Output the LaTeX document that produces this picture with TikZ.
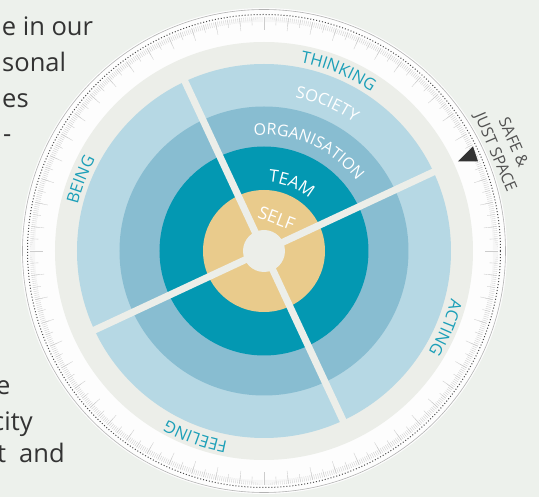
\documentclass[tikz,border=0pt]{standalone}
\usepackage{fontspec}
\setmainfont{Open Sans}
\usetikzlibrary{decorations.text}
\definecolor{bgcol}{HTML}{EDF1EC}
\definecolor{bandcol}{HTML}{ECEEE9}
\definecolor{dialcol}{HTML}{FDFDFD}
\definecolor{societycol}{HTML}{B6D8E4}
\definecolor{orgcol}{HTML}{88BDD1}
\definecolor{teamcol}{HTML}{0398B2}
\definecolor{selfcol}{HTML}{E9CB8C}
\definecolor{labelcol}{HTML}{1B9FB8}
\definecolor{inkcol}{HTML}{333333}
\begin{document}
\begin{tikzpicture}[x=1pt, y=1pt,
    body/.style={anchor=base west, inner sep=0pt, text=inkcol, font=\fontsize{25.5}{30}\selectfont},
    tick/.style={draw=gray!40, line width=0.35pt},
    spoke/.style={draw=bandcol, line width=7pt},
    safe/.style={text=inkcol!85, font=\fontsize{16}{18}\selectfont, inner sep=0pt}
  ]
  % page
  \fill[bgcol] (-264,-246) rectangle (275,251);
  \useasboundingbox (-264,-246) rectangle (275,251);
  \clip (-264,-246) rectangle (275,251);

  % dial with ticks
  \fill[dialcol] (0,0) circle (243);
  \draw[gray!60, line width=0.6pt] (0,0) circle (241.5);
  \draw[gray!60!black, dotted, line width=1pt] (0,0) circle (236.5);
  \foreach \a in {0,0.5,...,359.5} \draw[tick] (\a:234) -- (\a:229);
  \foreach \a in {0,3,...,357} \draw[tick] (\a:234) -- (\a:226);
  \foreach \a in {0,6,...,354} \draw[tick] (\a:234) -- (\a:221);

  % rings
  \fill[bandcol] (0,0) circle (209);
  \fill[societycol] (0,0) circle (187);
  \fill[orgcol] (0,0) circle (144.5);
  \fill[teamcol] (0,0) circle (104.5);
  \fill[selfcol] (0,0) circle (61);
  \draw[spoke] (205:188) -- (25:188);
  \draw[spoke] (295:188) -- (115:188);
  \fill[bandcol] (0,0) circle (21);

  % marker
  \fill[inkcol] (194,89.5) -- (214,89.5) -- (209,104.5) -- cycle;

  % ring labels
  \node[text=white, inner sep=0pt, font=\fontsize{17.5}{18}\selectfont, rotate=-21] (self) at (69:35) {SELF};
  \foreach \ang/\rad/\word/\col/\size in {67.8/69/TEAM/white/17,
      66/116/ORGANISATION/white/16, 66.8/157/SOCIETY/white/16.5, 67.5/192/THINKING/labelcol/16.5,
      158.7/192/BEING/labelcol/16.5, -22.9/193/ACTING/labelcol/16.5, 249.7/194/FEELING/labelcol/16.5}
    \path[decorate, decoration={text along path, text color=\col, text align=center,
        text/.expanded={|\noexpand\fontsize{\size}{18}\noexpand\selectfont|\word}}]
      (\ang+60:\rad) arc[start angle=\ang+60, end angle=\ang-60, radius=\rad];

  \node[safe, rotate=-66.5] (safe) at (23.5:272.5) {SAFE \&};
  \node[safe, rotate=-66.9] (just) at (23.1:251) {JUST SPACE};

  % cut-off body text
  \node[body] (l1) at (-262.3,215.5) {e in our};
  \node[body] (l2) at (-262,179.5) {sonal};
  \node[body] (l3) at (-262,143.5) {es};
  \node[body] (l4) at (-261,108.5) {-};
  \node[body] (l5) at (-268,-143.5) {e};
  \node[body] (l6) at (-272,-179.5) {city};
  \node[body] (l7) at (-267,-211.5) {t};
  \node[body] (l8) at (-245,-211.5) {and};
\end{tikzpicture}
\end{document}
